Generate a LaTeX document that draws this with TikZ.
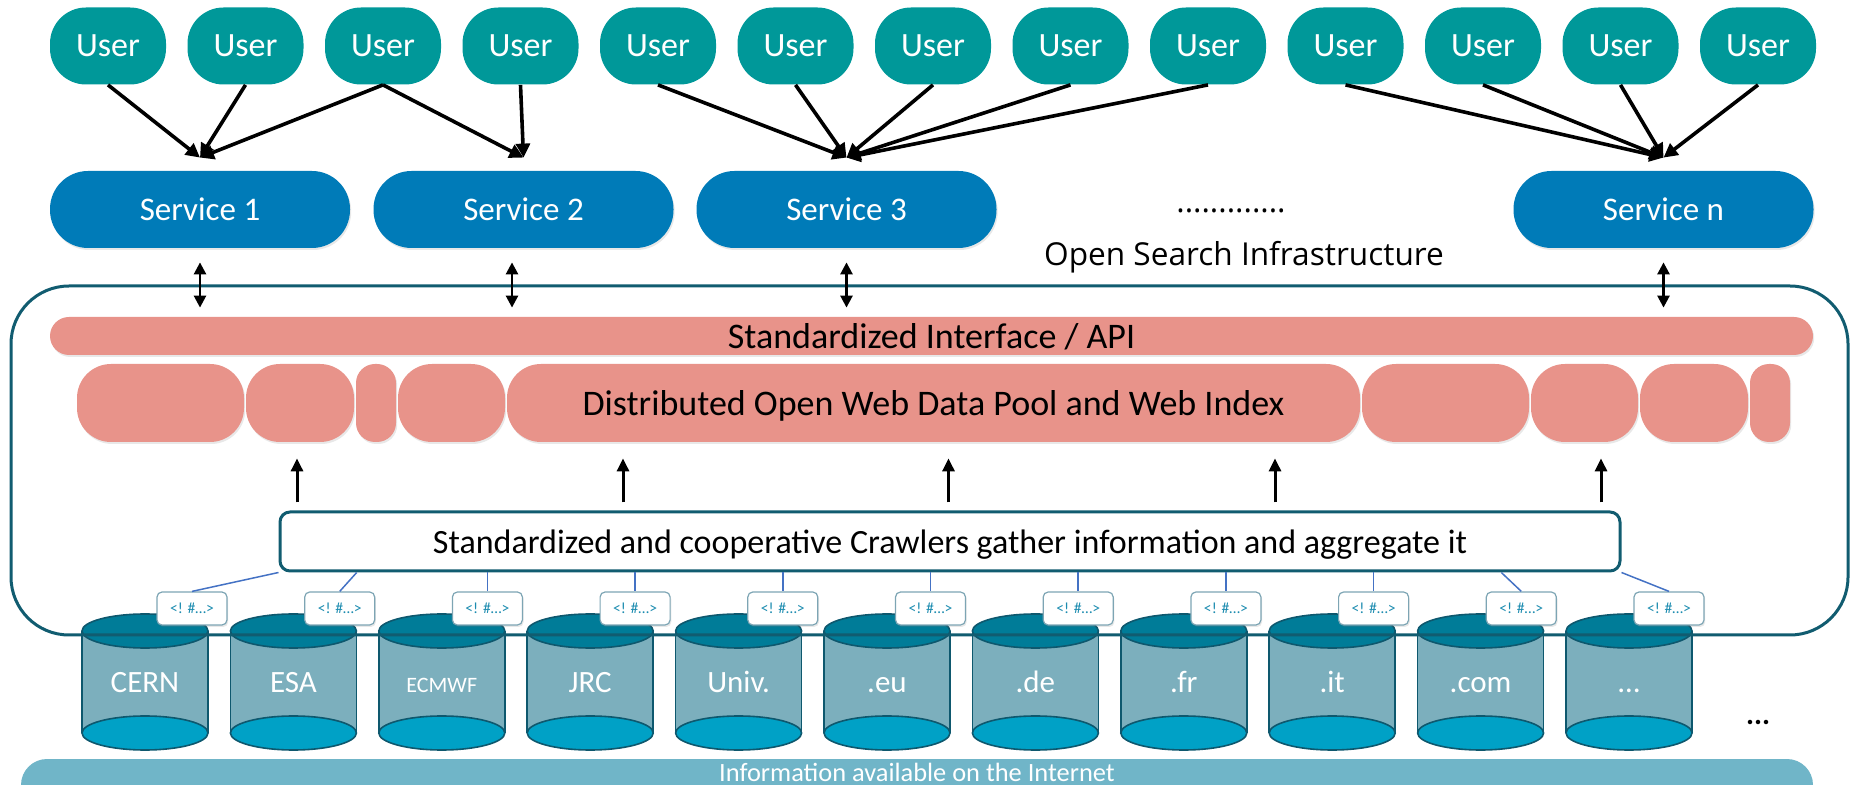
\documentclass[tikz,border=0pt]{standalone}
\usepackage{fontspec}
\setmainfont{Carlito}
\newfontfamily\opensans{Open Sans}
\usetikzlibrary{arrows.meta,shadows,calc}

\definecolor{usercol}{RGB}{0,152,153}
\definecolor{servcol}{RGB}{0,123,184}
\definecolor{poolcol}{RGB}{232,147,138}
\definecolor{framecol}{RGB}{17,92,112}
\definecolor{cyltop}{RGB}{0,124,152}
\definecolor{cylbody}{RGB}{124,175,189}
\definecolor{cylbase}{RGB}{0,161,198}
\definecolor{cylline}{RGB}{14,88,110}
\definecolor{tagtext}{RGB}{28,140,176}
\definecolor{tagline}{RGB}{68,114,196}
\definecolor{tagedge}{RGB}{125,165,180}
\definecolor{netcol}{RGB}{112,181,200}

\tikzset{
  softshadow/.style={drop shadow={shadow xshift=0.6pt, shadow yshift=-1pt, opacity=0.18}},
  user/.style={fill=usercol, text=white, rounded corners=18pt, minimum width=58pt, minimum height=38.5pt, inner sep=0pt, font=\fontsize{17}{17}\selectfont},
  service/.style={fill=servcol, text=white, rounded corners=19pt, minimum width=150pt, minimum height=38.5pt, inner sep=0pt, font=\fontsize{16.5}{16.5}\selectfont, softshadow},
  api/.style={fill=poolcol, rounded corners=9.5pt, minimum width=881.5pt, minimum height=19pt, inner sep=0pt, font=\fontsize{18}{18}\selectfont, text depth=0pt, softshadow},
  blob/.style={fill=poolcol, rounded corners=17pt, minimum height=39pt, inner sep=0pt, font=\fontsize{18}{18}\selectfont, text depth=0pt, softshadow},
  slim/.style={blob, rounded corners=9.5pt, minimum width=20pt},
  crawler/.style={draw=framecol, line width=1.5pt, fill=white, rounded corners=5pt, minimum width=670pt, minimum height=29.5pt, inner sep=0pt, font=\fontsize{17}{17}\selectfont, text depth=0pt},
  tag/.style={draw=tagedge, line width=0.6pt, fill=white, rounded corners=2.5pt, minimum width=35pt, minimum height=16.5pt, inner sep=0pt, text=tagtext, font=\fontsize{7.8}{8}\selectfont, softshadow},
  tagwire/.style={draw=tagline, line width=0.75pt},
  cyledge/.style={draw=cylline, line width=0.8pt},
  cyllabel/.style={anchor=base, text=white, font=\fontsize{15.5}{15.5}\selectfont},
  infolabel/.style={font=\opensans\fontsize{15.8}{15.8}\selectfont},
  uses/.style={-{Triangle[length=7pt,width=7pt]}, line width=1.8pt},
  duplex/.style={{Triangle[length=6pt,width=6pt]}-{Triangle[length=6pt,width=6pt]}, line width=1.3pt, shorten <=7pt, shorten >=4.5pt},
  lift/.style={-{Triangle[length=6.5pt,width=6pt]}, line width=1.5pt, shorten <=4pt, shorten >=8pt},
  netbar/.style={fill=netcol, rounded corners=13pt, minimum width=896pt, minimum height=26pt, inner sep=0pt},
  nettext/.style={text=white, font=\fontsize{13.2}{13.2}\selectfont, text depth=0pt}
}

\begin{document}
\begin{tikzpicture}[x=0.5pt,y=-0.5pt]
\useasboundingbox (0,0) rectangle (1853,785);
\clip (0,0) rectangle (1853,785);

% data sources
\foreach \lbl [count=\i] in {CERN,ESA,{\fontsize{11}{11}\selectfont ECMWF},JRC,Univ.,.eu,.de,.fr,.it,.com,\ldots}{
  \pgfmathsetmacro\cx{145+148.4*(\i-1)}
  \fill[cylbody] (\cx-63,631) rectangle (\cx+63,733);
  \draw[cyledge] (\cx-63,631) -- (\cx-63,733) (\cx+63,631) -- (\cx+63,733);
  \filldraw[cyledge, fill=cylbase] (\cx,733) ellipse [x radius=31.5pt, y radius=8.5pt];
  \filldraw[cyledge, fill=cyltop] (\cx,631) ellipse [x radius=31.5pt, y radius=8.5pt];
  \node[cyllabel] (c\i) at (\cx,693) {\lbl};
}
\node[font=\bfseries\fontsize{15}{15}\selectfont] (more) at (1758,722) {...};

\node[netbar] (net) at (917,785) {};
\node[nettext] (nettxt) at (917,772) {Information available on the Internet};

% infrastructure frame
\draw[framecol, line width=1.5pt, rounded corners=29pt] (11,286) rectangle (1848,635);
\node[infolabel] (dots) at (1231,211) {.............};
\node[infolabel] (osi) at (1244,257) {Open Search Infrastructure};

\node[api] (api) at (931.5,336) {Standardized Interface / API};

\node[blob, minimum width=83.5pt] (b1) at (160.5,403) {};
\node[blob, minimum width=54pt] (b2) at (300,403) {};
\node[slim] (b3) at (376,403) {};
\node[blob, minimum width=53.5pt] (b4) at (451.5,403) {};
\node[blob, minimum width=426.5pt] (pool) at (933.5,403) {Distributed Open Web Data Pool and Web Index};
\node[blob, minimum width=83.5pt] (b6) at (1445.5,403) {};
\node[blob, minimum width=53.5pt] (b7) at (1584.5,403) {};
\node[blob, minimum width=54pt] (b8) at (1694,403) {};
\node[slim] (b9) at (1770,403) {};

\node[crawler] (crawl) at (950,541.5) {Standardized and cooperative Crawlers gather information and aggregate it};

\foreach \x [count=\k] in {297,623,948.5,1275,1601}{
  \coordinate (k\k) at (\x,0);
  \draw[lift] (crawl.north -| k\k) -- (pool.south -| k\k);
}

% crawler tags
\foreach \i in {1,2,3,4,5,6,7,8,9,10,11}
  \node[tag] (t\i) at ({192+147.7*(\i-1)},608.5) {<! \#\ldots>};
\draw[tagwire] (crawl.south west) -- (t1.north);
\draw[tagwire] ($(t2.north |- crawl.south)+(17,0)$) -- (t2.north);
\foreach \i in {3,4,5,6,7,8,9}
  \draw[tagwire] (t\i.north |- crawl.south) -- (t\i.north);
\draw[tagwire] ($(t10.north |- crawl.south)+(-20,0)$) -- (t10.north);
\draw[tagwire] (crawl.south east) -- (t11.north);

% users and services
\foreach \i in {1,2,3,4,5,6,7,8,9,10,11,12,13}
  \node[user] (u\i) at ({108+137.5*(\i-1)},46) {User};

\node[service] (s1) at (200,209.5) {Service 1};
\node[service] (s2) at (523.5,209.5) {Service 2};
\node[service] (s3) at (846.5,209.5) {Service 3};
\node[service] (sn) at (1663.5,209.5) {Service n};

\foreach \u/\s in {1/s1,2/s1,3/s1,3/s2,4/s2,5/s3,6/s3,7/s3,8/s3,9/s3,10/sn,11/sn,12/sn,13/sn}
  \draw[uses] (u\u.south) -- ([yshift=6.5pt]\s.north);

\draw[duplex] (s1.south) -- (s1.south |- api.north);
\draw[duplex] ($(s2.south)+(-11.5,0)$) -- ($(s2.south |- api.north)+(-11.5,0)$);
\draw[duplex] (s3.south) -- (s3.south |- api.north);
\draw[duplex] (sn.south) -- (sn.south |- api.north);
\end{tikzpicture}
\end{document}
